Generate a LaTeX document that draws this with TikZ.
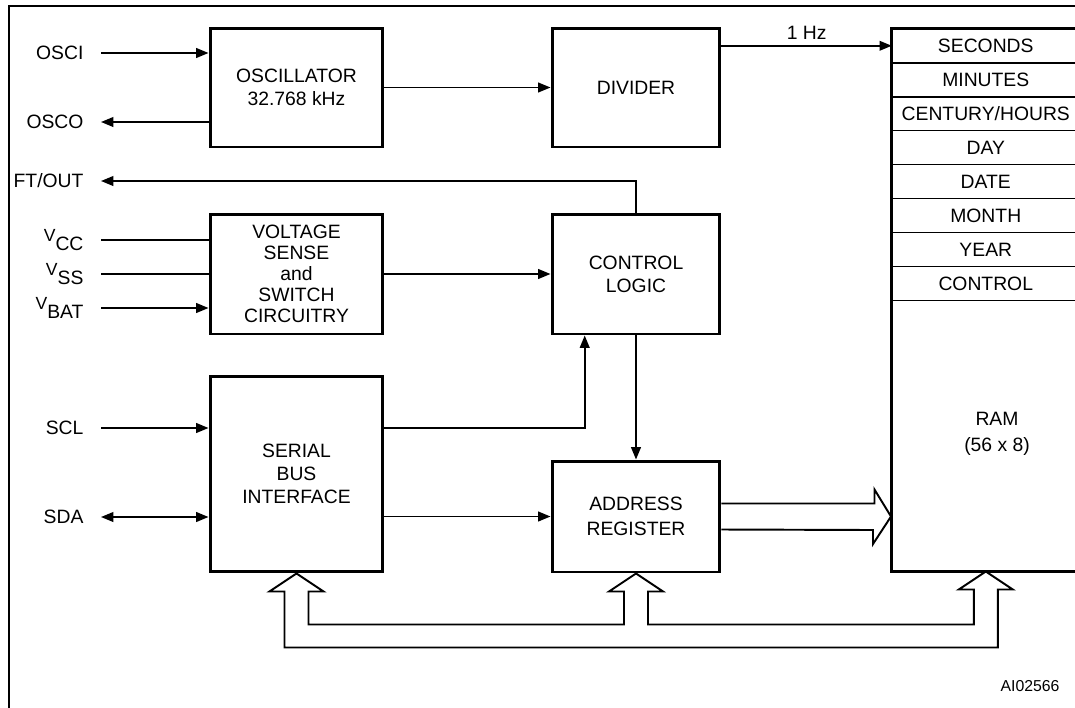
\documentclass[tikz,border=0pt]{standalone}
\usepackage{fontspec}
\setmainfont{Liberation Sans}
\usepackage{tikz}
\usetikzlibrary{matrix,positioning,calc,arrows.meta}

\tikzset{
  >={Triangle[length=7pt,width=5.5pt]},
  blk/.style={draw, line width=1.7pt, align=center, inner sep=0pt},
  pinlbl/.style={anchor=east, inner sep=0pt, outer xsep=10pt},
  sig/.style={line width=1pt},
  bus/.style={line width=1.1pt, line join=miter},
}

\begin{document}
\begin{tikzpicture}[x=0.02cm, y=-0.02cm, font=\fontsize{11}{13}\selectfont]
    \useasboundingbox (0,0) rectangle (1075,707);
    \clip (0,0) rectangle (1075,707);
    \draw[line width=1.7pt] (9,710) |- (1080,6);

    \node[blk, minimum width=3.46cm, minimum height=2.38cm] (osc) at (296.5,87.5) {OSCILLATOR\\32.768 kHz};
    \node[blk, minimum width=3.36cm, minimum height=2.38cm] (div) at (636,87.5) {DIVIDER};
    \node[blk, minimum width=3.46cm, minimum height=2.4cm, font=\fontsize{11}{12}\selectfont] (volt) at (296.5,274) {VOLTAGE\\SENSE\\and\\SWITCH\\CIRCUITRY};
    \node[blk, minimum width=3.36cm, minimum height=2.4cm] (ctrl) at (636,274) {CONTROL\\LOGIC};
    \node[blk, minimum width=3.46cm, minimum height=3.92cm] (serial) at (296.5,474) {SERIAL\\BUS\\INTERFACE};
    \node[blk, minimum width=3.36cm, minimum height=2.22cm, font=\fontsize{11}{14}\selectfont] (addr) at (636,516.5) {ADDRESS\\REGISTER};

    \matrix (ram) [matrix of nodes, draw, line width=1.7pt, inner sep=0pt, outer sep=0pt,
                   anchor=north west, row sep=-0.9pt, nodes in empty cells,
                   nodes={draw, line width=0.9pt, minimum width=3.76cm, minimum height=19.33pt,
                          inner sep=0pt, outer sep=0pt, anchor=center,
                          text height=7.9pt, text depth=0pt},
                   row 9/.style={nodes={minimum height=153.8pt}}]
        at (891,28)
    {
      SECONDS \\
      MINUTES \\
      CENTURY/HOURS \\
      DAY \\
      DATE \\
      MONTH \\
      YEAR \\
      CONTROL \\
      \\
    };
    \node[align=center, font=\fontsize{11}{15}\selectfont] (ramtxt) at (997,434) {RAM\\(56 x 8)};

    \node[pinlbl] (osci) at (101,53) {OSCI};
    \node[pinlbl] (osco) at (101,122) {OSCO};
    \node[pinlbl] (ftout) at (101,181) {FT/OUT};
    \node[pinlbl] (vcc) at (101,240) {{\fontsize{10}{10}\selectfont V}\raisebox{-5.5pt}{CC}};
    \node[pinlbl] (vss) at (101,274) {{\fontsize{10}{10}\selectfont V}\raisebox{-5.5pt}{SS}};
    \node[pinlbl] (vbat) at (101,308) {{\fontsize{10}{10}\selectfont V}\raisebox{-5.5pt}{BAT}};
    \node[pinlbl] (scl) at (101,428) {SCL};
    \node[pinlbl] (sda) at (101,517) {SDA};
    \node[font=\fontsize{9}{10}\selectfont] (code) at (1030,686) {AI02566};

    \draw[sig, ->] (osci.east) -- (osci.east -| osc.west);
    \draw[sig, ->] (osc.west |- osco.east) -- (osco.east);
    \draw[sig, ->] (osc.east) -- (div.west);
    \draw[sig, ->] (ram-1-1.west -| div.east) -- node[above] {1 Hz} (ram-1-1.west);
    \draw[sig, ->] (ctrl.north) |- (ftout.east);
    \draw[sig] (vcc.east) -- (vcc.east -| volt.west);
    \draw[sig] (vss.east) -- (vss.east -| volt.west);
    \draw[sig, ->] (vbat.east) -- (vbat.east -| volt.west);
    \draw[sig, ->] (volt.east) -- (ctrl.west);
    \draw[sig, ->] (scl.east) -- (scl.east -| serial.west);
    \draw[sig, <->] (sda.east) -- (sda.east -| serial.west);
    \draw[sig, ->] (serial.east |- scl.east) -| ($(ctrl.south west)!0.2!(ctrl.south east)$);
    \draw[sig, ->] (ctrl.south) -- (addr.north);
    \draw[sig, ->] (serial.east |- addr.west) -- (addr.west);

    \draw[bus] ($(addr.east)+(0,-13)$) -- ++(153,0) -- ++(0,-14) -- (ram.west |- addr.east)
        -- ++(-18,27.5) -- ++(0,-14) -- ($(addr.east)+(0,13)$);
    \draw[bus] (serial.south) -- ++(27,18) -- ++(-15,0) -- ++(0,33)
        -| ($(addr.south)+(-12,18)$) -- ++(-15,0) -- (addr.south) -- ++(27,18) -- ++(-15,0) -- ++(0,33)
        -| ($(ram.south)+(-12,18)$) -- ++(-15,0) -- (ram.south) -- ++(27,18) -- ++(-15,0) -- ++(0,58)
        -| ($(serial.south)+(-12,18)$) -- ++(-15,0) -- cycle;
\end{tikzpicture}
\end{document}
